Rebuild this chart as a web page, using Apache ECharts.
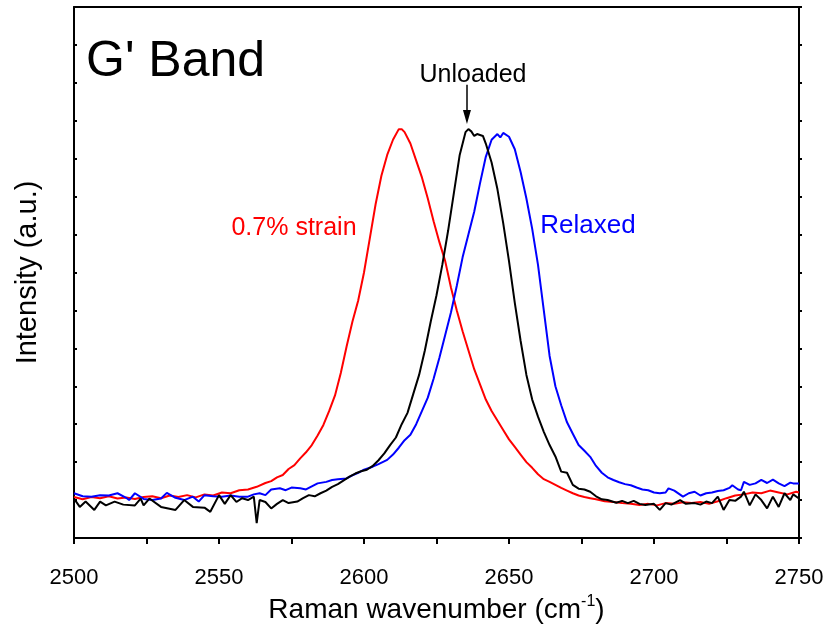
<!DOCTYPE html>
<html>
<head>
<meta charset="utf-8">
<script src="https://cdn.jsdelivr.net/npm/echarts@6/dist/echarts.min.js"></script>
<style>
html,body{margin:0;padding:0;background:#fff;}
#chart{width:829px;height:635px;}
</style>
</head>
<body>
<div id="chart"></div>
<script>
// X axis tick labels
var xTicks = [2500, 2550, 2600, 2650, 2700, 2750];

// 0.7% strain (red): [wavenumber, intensity]
var strainData = [
[2500,1.08],[2503,1.02],[2506,1.08],[2509,1.05],[2512,1.10],[2515,1.04],[2518,1.07],[2521,1.03],[2524,1.08],[2527,1.10],
[2530,1.05],[2533,1.12],[2536,1.08],[2539,1.13],[2542,1.07],[2545,1.15],[2548,1.12],[2551,1.20],[2554,1.18],[2557,1.26],
[2560,1.28],[2563,1.35],[2566,1.45],[2568,1.50],[2570,1.60],[2572,1.66],[2574,1.82],[2576,1.92],[2578,2.10],[2580,2.26],
[2582,2.45],[2584,2.70],[2586,2.98],[2588,3.35],[2590,3.76],[2592,4.35],[2594,5.05],[2596,5.70],[2598,6.26],[2600,7.00],
[2602,7.90],[2604,8.80],[2606,9.55],[2608,10.10],[2610,10.50],[2612,10.78],[2613,10.78],[2614,10.70],[2616,10.40],[2618,9.95],
[2620,9.50],[2622,8.95],[2624,8.35],[2626,7.80],[2628,7.30],[2630,6.60],[2632,6.00],[2634,5.45],[2636,4.95],[2638,4.45],
[2640,4.05],[2642,3.65],[2644,3.35],[2646,3.10],[2648,2.85],[2650,2.60],[2652,2.40],[2654,2.20],[2656,2.00],[2658,1.85],
[2660,1.68],[2662,1.55],[2664,1.48],[2666,1.40],[2668,1.32],[2670,1.25],[2672,1.18],[2674,1.12],[2676,1.08],[2678,1.05],
[2680,1.02],[2683,0.97],[2686,0.95],[2689,0.92],[2692,0.90],[2695,0.87],[2698,0.90],[2701,0.86],[2704,0.92],[2707,0.90],
[2710,0.94],[2713,0.92],[2716,0.95],[2719,0.90],[2722,0.97],[2725,1.05],[2728,1.12],[2731,1.15],[2734,1.20],[2737,1.18],
[2740,1.25],[2743,1.20],[2746,1.15],[2749,1.22],[2750,1.20]
];

// Relaxed (blue)
var relaxedData = [
[2500,1.18],[2503,1.10],[2506,1.09],[2509,1.13],[2512,1.12],[2515,1.18],[2518,1.06],[2519,1.00],[2521,1.18],[2524,1.03],
[2527,1.00],[2530,1.04],[2532,1.19],[2535,1.06],[2538,1.00],[2541,1.09],[2543,0.96],[2545,1.13],[2548,1.10],[2551,1.09],
[2554,1.12],[2557,1.09],[2560,1.09],[2562,1.15],[2564,1.18],[2566,1.13],[2568,1.28],[2571,1.31],[2573,1.26],[2575,1.33],
[2578,1.31],[2580,1.28],[2582,1.36],[2584,1.44],[2587,1.48],[2589,1.53],[2591,1.55],[2594,1.57],[2596,1.65],[2598,1.72],
[2600,1.80],[2603,1.88],[2605,1.95],[2608,2.06],[2610,2.20],[2612,2.38],[2614,2.58],[2616,2.72],[2618,3.00],[2620,3.35],
[2622,3.70],[2624,4.20],[2626,4.75],[2628,5.35],[2630,5.95],[2632,6.65],[2634,7.40],[2636,8.00],[2638,8.60],[2640,9.35],
[2642,10.05],[2644,10.50],[2646,10.65],[2647,10.56],[2648,10.68],[2650,10.58],[2652,10.25],[2654,9.65],[2656,8.95],[2658,8.15],
[2660,7.20],[2662,6.00],[2664,4.80],[2666,4.00],[2668,3.50],[2670,3.05],[2672,2.75],[2674,2.45],[2676,2.30],[2678,2.14],
[2680,1.90],[2682,1.72],[2684,1.60],[2686,1.53],[2688,1.47],[2690,1.42],[2692,1.39],[2694,1.33],[2696,1.28],[2698,1.26],
[2700,1.20],[2702,1.18],[2704,1.20],[2705,1.31],[2707,1.25],[2710,1.09],[2712,1.18],[2714,1.22],[2716,1.12],[2718,1.18],
[2720,1.20],[2722,1.24],[2724,1.26],[2726,1.32],[2727,1.39],[2729,1.28],[2730,1.26],[2731,1.48],[2733,1.40],[2735,1.44],
[2737,1.53],[2739,1.45],[2741,1.54],[2743,1.44],[2745,1.37],[2747,1.46],[2748,1.44],[2750,1.44]
];

// Unloaded (black)
var unloadedData = [
[2500,1.04],[2502,0.82],[2504,0.96],[2507,0.74],[2509,0.96],[2511,0.86],[2514,0.96],[2517,0.88],[2521,0.86],[2523,1.04],
[2524,0.86],[2526,1.04],[2530,0.82],[2535,0.74],[2538,1.00],[2541,0.82],[2545,0.80],[2547,0.69],[2550,1.13],[2552,0.90],
[2554,1.13],[2556,0.95],[2558,1.05],[2560,1.00],[2562,1.09],[2563,0.39],[2564,1.00],[2566,0.95],[2568,0.78],[2570,0.90],
[2572,1.00],[2574,0.92],[2577,0.96],[2579,1.05],[2581,1.13],[2583,1.10],[2585,1.18],[2587,1.25],[2589,1.35],[2591,1.42],
[2593,1.52],[2595,1.62],[2597,1.70],[2599,1.76],[2601,1.80],[2603,1.90],[2605,2.05],[2607,2.23],[2609,2.45],[2611,2.65],
[2613,3.00],[2615,3.30],[2617,3.80],[2619,4.30],[2621,4.95],[2623,5.70],[2625,6.40],[2627,7.20],[2629,8.10],[2631,9.10],
[2633,10.10],[2635,10.70],[2636,10.78],[2637,10.72],[2638,10.60],[2639,10.65],[2641,10.60],[2642,10.40],[2644,9.90],[2646,9.20],
[2648,8.30],[2650,7.30],[2652,6.20],[2654,5.20],[2656,4.30],[2658,3.65],[2660,3.20],[2662,2.80],[2664,2.45],[2666,2.15],
[2668,1.75],[2670,1.72],[2672,1.40],[2674,1.30],[2676,1.28],[2678,1.22],[2680,1.10],[2682,1.02],[2684,1.00],[2687,0.93],
[2689,0.98],[2691,0.92],[2693,0.98],[2695,0.90],[2697,0.87],[2700,0.90],[2702,0.74],[2704,0.92],[2706,0.88],[2709,1.00],
[2711,0.90],[2714,0.92],[2716,0.88],[2718,0.96],[2720,0.92],[2722,1.09],[2724,0.74],[2726,1.00],[2728,0.98],[2730,1.09],
[2731,1.22],[2733,0.86],[2735,1.15],[2737,1.00],[2739,0.78],[2741,1.09],[2743,0.82],[2745,1.18],[2747,1.00],[2748,1.15],
[2750,1.04]
];

// Arrow annotation (Unloaded peak): start and end in data coords
var arrowStart = [2635.5, 11.95];
var arrowEnd = [2635.5, 11.1];

var FONT = "'Liberation Sans', Arial, Helvetica, sans-serif";

var chart = echarts.init(document.getElementById('chart'), null, {renderer: 'canvas'});

var option = {
  backgroundColor: '#ffffff',
  animation: false,
  grid: {left: 74, right: 30, top: 7, bottom: 97, containLabel: false},
  xAxis: [{
    type: 'value',
    min: xTicks[0],
    max: xTicks[xTicks.length - 1],
    interval: 50,
    position: 'bottom',
    name: '{a|Raman wavenumber (cm}{s|-1}{a|)}',
    nameLocation: 'middle',
    nameGap: 49,
    nameTextStyle: {
      rich: {
        a: {fontFamily: FONT, fontSize: 28, color: '#000', lineHeight: 30, verticalAlign: 'bottom'},
        s: {fontFamily: FONT, fontSize: 16, color: '#000', lineHeight: 30, verticalAlign: 'top'}
      }
    },
    axisLine: {show: true, onZero: false, lineStyle: {color: '#000', width: 2}},
    axisTick: {show: true, inside: false, length: 6, lineStyle: {color: '#000', width: 2}},
    minorTick: {show: true, splitNumber: 2, length: 6, lineStyle: {color: '#000', width: 2}},
    axisLabel: {show: true, color: '#000', fontFamily: FONT, fontSize: 22, margin: 29,
      formatter: function (v) { return xTicks.indexOf(v) >= 0 ? String(v) : ''; }},
    splitLine: {show: false}
  }, {
    type: 'value',
    min: xTicks[0],
    max: xTicks[xTicks.length - 1],
    position: 'top',
    axisLine: {show: true, onZero: false, lineStyle: {color: '#000', width: 2}},
    axisTick: {show: false},
    axisLabel: {show: false},
    splitLine: {show: false}
  }],
  yAxis: [{
    type: 'value',
    min: 0,
    max: 14,
    interval: 1,
    position: 'left',
    name: 'Intensity (a.u.)',
    nameLocation: 'middle',
    nameGap: 32,
    nameTextStyle: {fontFamily: FONT, fontSize: 29, color: '#000'},
    axisLine: {show: true, onZero: false, lineStyle: {color: '#000', width: 2}},
    axisTick: {show: true, inside: true, length: 3, lineStyle: {color: '#000', width: 2}},
    axisLabel: {show: false},
    splitLine: {show: false}
  }, {
    type: 'value',
    min: 0,
    max: 14,
    interval: 1,
    position: 'right',
    axisLine: {show: true, onZero: false, lineStyle: {color: '#000', width: 2}},
    axisTick: {show: true, inside: false, length: 3, lineStyle: {color: '#000', width: 2}},
    axisLabel: {show: false},
    splitLine: {show: false}
  }],
  series: [{
    name: '0.7% strain',
    type: 'line',
    data: strainData,
    showSymbol: false,
    symbol: 'none',
    lineStyle: {color: '#ff0000', width: 2},
    itemStyle: {color: '#ff0000'},
    z: 2
  }, {
    name: 'Relaxed',
    type: 'line',
    data: relaxedData,
    showSymbol: false,
    symbol: 'none',
    lineStyle: {color: '#0000ff', width: 2},
    itemStyle: {color: '#0000ff'},
    z: 3
  }, {
    name: 'Unloaded',
    type: 'line',
    data: unloadedData,
    showSymbol: false,
    symbol: 'none',
    lineStyle: {color: '#000000', width: 2},
    itemStyle: {color: '#000000'},
    z: 4,
    markLine: {
      silent: true,
      animation: false,
      label: {show: false},
      lineStyle: {color: '#000', width: 1.5, type: 'solid'},
      symbol: ['none', 'triangle'],
      symbolSize: [8, 14],
      data: [[{coord: arrowStart}, {coord: arrowEnd}]]
    }
  }],
  graphic: [
    {type: 'text', x: 86, y: 62, style: {text: "G' Band", font: '50px ' + FONT, fill: '#000', align: 'left', verticalAlign: 'middle', textAlign: 'left', textVerticalAlign: 'middle'}},
    {type: 'text', x: 473, y: 75, style: {text: 'Unloaded', font: '25px ' + FONT, fill: '#000', align: 'center', verticalAlign: 'middle', textAlign: 'center', textVerticalAlign: 'middle'}},
    {type: 'text', x: 294, y: 228, style: {text: '0.7% strain', font: '25px ' + FONT, fill: '#ff0000', align: 'center', verticalAlign: 'middle', textAlign: 'center', textVerticalAlign: 'middle'}},
    {type: 'text', x: 588, y: 226, style: {text: 'Relaxed', font: '26px ' + FONT, fill: '#0000ff', align: 'center', verticalAlign: 'middle', textAlign: 'center', textVerticalAlign: 'middle'}}
  ]
};

chart.setOption(option);
</script>
</body>
</html>
